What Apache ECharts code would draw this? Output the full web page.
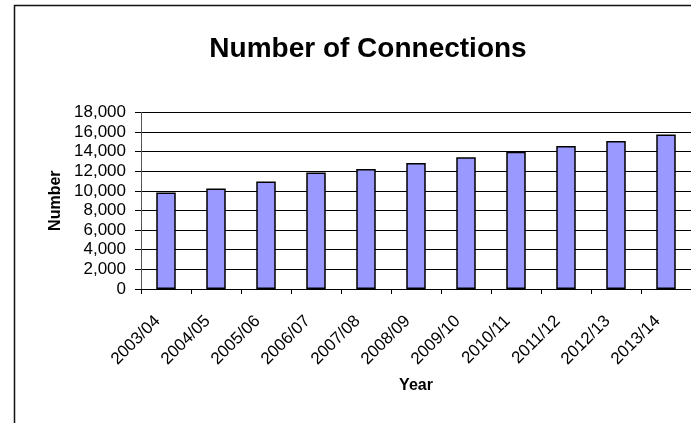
<!DOCTYPE html>
<html><head><meta charset="utf-8">
<script src="https://cdn.jsdelivr.net/npm/echarts@6/dist/echarts.min.js"></script>
<style>html,body{margin:0;padding:0;background:#fff}#c{width:691px;height:423px}</style>
</head><body><div id="c"></div>
<script>
const categories = ["2003/04","2004/05","2005/06","2006/07","2007/08","2008/09","2009/10","2010/11","2011/12","2012/13","2013/14"];
const connections = [9840, 10250, 10960, 11870, 12230, 12840, 13410, 13980, 14570, 15080, 15750];
const yMin = 0, yMax = 18000, yStep = 2000;

const chart = echarts.init(document.getElementById('c'), null, {renderer:'canvas'});
const font = '"Liberation Sans", Arial, sans-serif';
chart.setOption({
  animation: false,
  backgroundColor: '#fff',
  title: {
    text: 'Number of Connections',
    left: 363, top: 30, textAlign: 'center',
    textStyle: {fontFamily: font, fontSize: 28, fontWeight: 'bold', color: '#000'}
  },
  graphic: [{
    type: 'rect', shape: {x: 14.5, y: 5.5, width: 800, height: 600},
    style: {fill: 'none', stroke: '#111', lineWidth: 1.5}, z: 100
  }],
  grid: {left: 141, right: 0, top: 112.3, bottom: 134, containLabel: false},
  xAxis: {
    type: 'category', data: categories,
    name: 'Year', nameLocation: 'middle', nameGap: 89,
    nameTextStyle: {fontFamily: font, fontSize: 16, fontWeight: 'bold', color: '#000'},
    axisLine: {lineStyle: {color: '#000', width: 1}},
    axisTick: {show: true, inside: false, length: 5, lineStyle: {color: '#000'}},
    axisLabel: {rotate: 45, margin: 21, padding: [0, 12, 0, 0], fontFamily: font, fontSize: 17, color: '#000', interval: 0}
  },
  yAxis: {
    type: 'value', min: yMin, max: yMax, interval: yStep,
    name: 'Number', nameLocation: 'middle', nameGap: 77, nameRotate: 90,
    nameTextStyle: {fontFamily: font, fontSize: 16, fontWeight: 'bold', color: '#000'},
    axisLine: {show: true, lineStyle: {color: '#555', width: 1}},
    axisTick: {show: true, length: 6, lineStyle: {color: '#000'}},
    axisLabel: {margin: 15, fontFamily: font, fontSize: 17, color: '#000',
      formatter: v => v.toLocaleString('en-US')},
    splitLine: {show: true, lineStyle: {color: '#000', width: 1}}
  },
  series: [{
    type: 'bar', data: connections, barWidth: '39%',
    itemStyle: {color: '#9999FF', borderColor: '#000', borderWidth: 1.5}
  }]
});
</script></body></html>
